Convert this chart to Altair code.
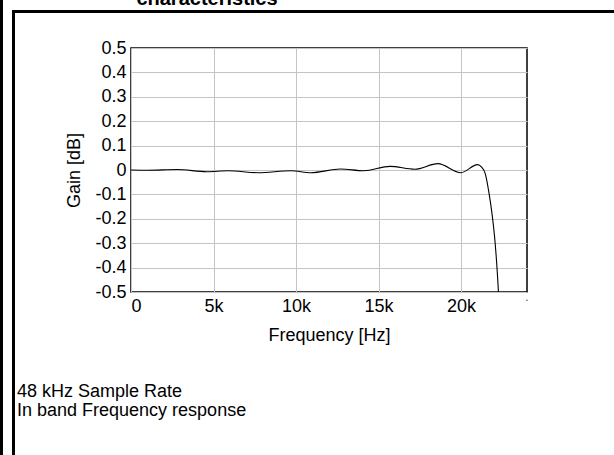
import altair as alt
import pandas as pd

# In-band frequency response, 48 kHz sample rate
freq_hz = [0, 1000, 2800, 4600, 5900, 7700, 9700, 10900, 12700, 14100, 15700,
           17200, 18600, 20000, 21000, 21250, 21470, 21700, 21900, 22070,
           22200, 22270]
gain_db = [0.0, -0.001, 0.002, -0.007, -0.003, -0.011, -0.003, -0.011, 0.004,
           -0.003, 0.015, 0.003, 0.026, -0.011, 0.022, 0.012, -0.015, -0.096,
           -0.19, -0.30, -0.42, -0.5]

x_ticks = [0, 5000, 10000, 15000, 20000]
y_ticks = [-0.5, -0.4, -0.3, -0.2, -0.1, 0, 0.1, 0.2, 0.3, 0.4, 0.5]

caption_lines = ["48 kHz Sample Rate", "In band Frequency response"]
heading = "characteristics"

FONT = "Liberation Sans"
FS = 18
W, H = 396, 244          # plot area
LEFT, TOP = 131, 48      # plot area offset inside the 614x455 canvas

df = pd.DataFrame({"freq": freq_hz, "gain": gain_db})
one = alt.Data(values=[{}])

x_enc = alt.X(
    "freq:Q",
    scale=alt.Scale(domain=[0, 24000], nice=False, zero=False),
    axis=alt.Axis(
        values=x_ticks,
        labelExpr="datum.value == 0 ? '0' : (datum.value / 1000) + 'k'",
        title="Frequency [Hz]",
        titleY=43, titleBaseline="middle",
        labelPadding=5,
    ),
)
y_enc = alt.Y(
    "gain:Q",
    scale=alt.Scale(domain=[-0.5, 0.5], nice=False, zero=False),
    axis=alt.Axis(
        values=y_ticks,
        labelExpr="datum.value == 0 ? '0' : (datum.value < 0 ? '-' : '') + format(abs(datum.value), '.1f')",
        title="Gain [dB]",
        titleX=-57, titleY=H / 2, titleAngle=-90,
        titleBaseline="middle", titleAlign="center",
        labelPadding=5,
    ),
)

curve = alt.Chart(df).mark_line(
    color="black", strokeWidth=1.1, interpolate="monotone", clip=True
).encode(x=x_enc, y=y_enc)

# stray tick label at the right end of the frequency axis
dot = alt.Chart(one).mark_text(
    text=".", font=FONT, fontSize=12, color="#555555", align="center", baseline="alphabetic"
).encode(x=alt.value(W), y=alt.value(H + 9))

# page frame lines
outer_left = alt.Chart(one).mark_rule(color="black", strokeWidth=3).encode(
    x=alt.value(1.5 - LEFT), y=alt.value(-TOP), y2=alt.value(455 - TOP)
)
frame_left = alt.Chart(one).mark_rule(color="black", strokeWidth=3).encode(
    x=alt.value(13.5 - LEFT), y=alt.value(10 - TOP), y2=alt.value(455 - TOP)
)
frame_top = alt.Chart(one).mark_rule(color="black", strokeWidth=3).encode(
    x=alt.value(12 - LEFT), x2=alt.value(614 - LEFT), y=alt.value(11.5 - TOP)
)

title_text = alt.Chart(one).mark_text(
    text=heading, font=FONT, fontSize=20, fontWeight="bold",
    align="center", baseline="alphabetic", color="black"
).encode(x=alt.value(207 - LEFT), y=alt.value(5 - TOP))

caption = alt.Chart(one).mark_text(
    text=caption_lines, font=FONT, fontSize=FS, lineHeight=19.3,
    align="left", baseline="alphabetic", color="black"
).encode(x=alt.value(17 - LEFT), y=alt.value(396.5 - TOP))

chart = alt.layer(
    curve, dot, outer_left, frame_left, frame_top, title_text, caption
).properties(
    width=W, height=H,
    autosize=alt.AutoSizeParams(type="none"),
    padding={"left": LEFT, "top": TOP, "right": 614 - LEFT - W, "bottom": 455 - TOP - H},
    background="white",
).configure_view(
    stroke="black", strokeWidth=1.5
).configure_axis(
    labelFont=FONT, titleFont=FONT, labelFontSize=FS, titleFontSize=FS,
    labelColor="black", titleColor="black", titleFontWeight="normal",
    grid=True, gridColor="#c4c4c4", gridWidth=1,
    ticks=False, domain=False,
)

chart.save("out.html", embed_options={"renderer": "svg", "actions": False})
